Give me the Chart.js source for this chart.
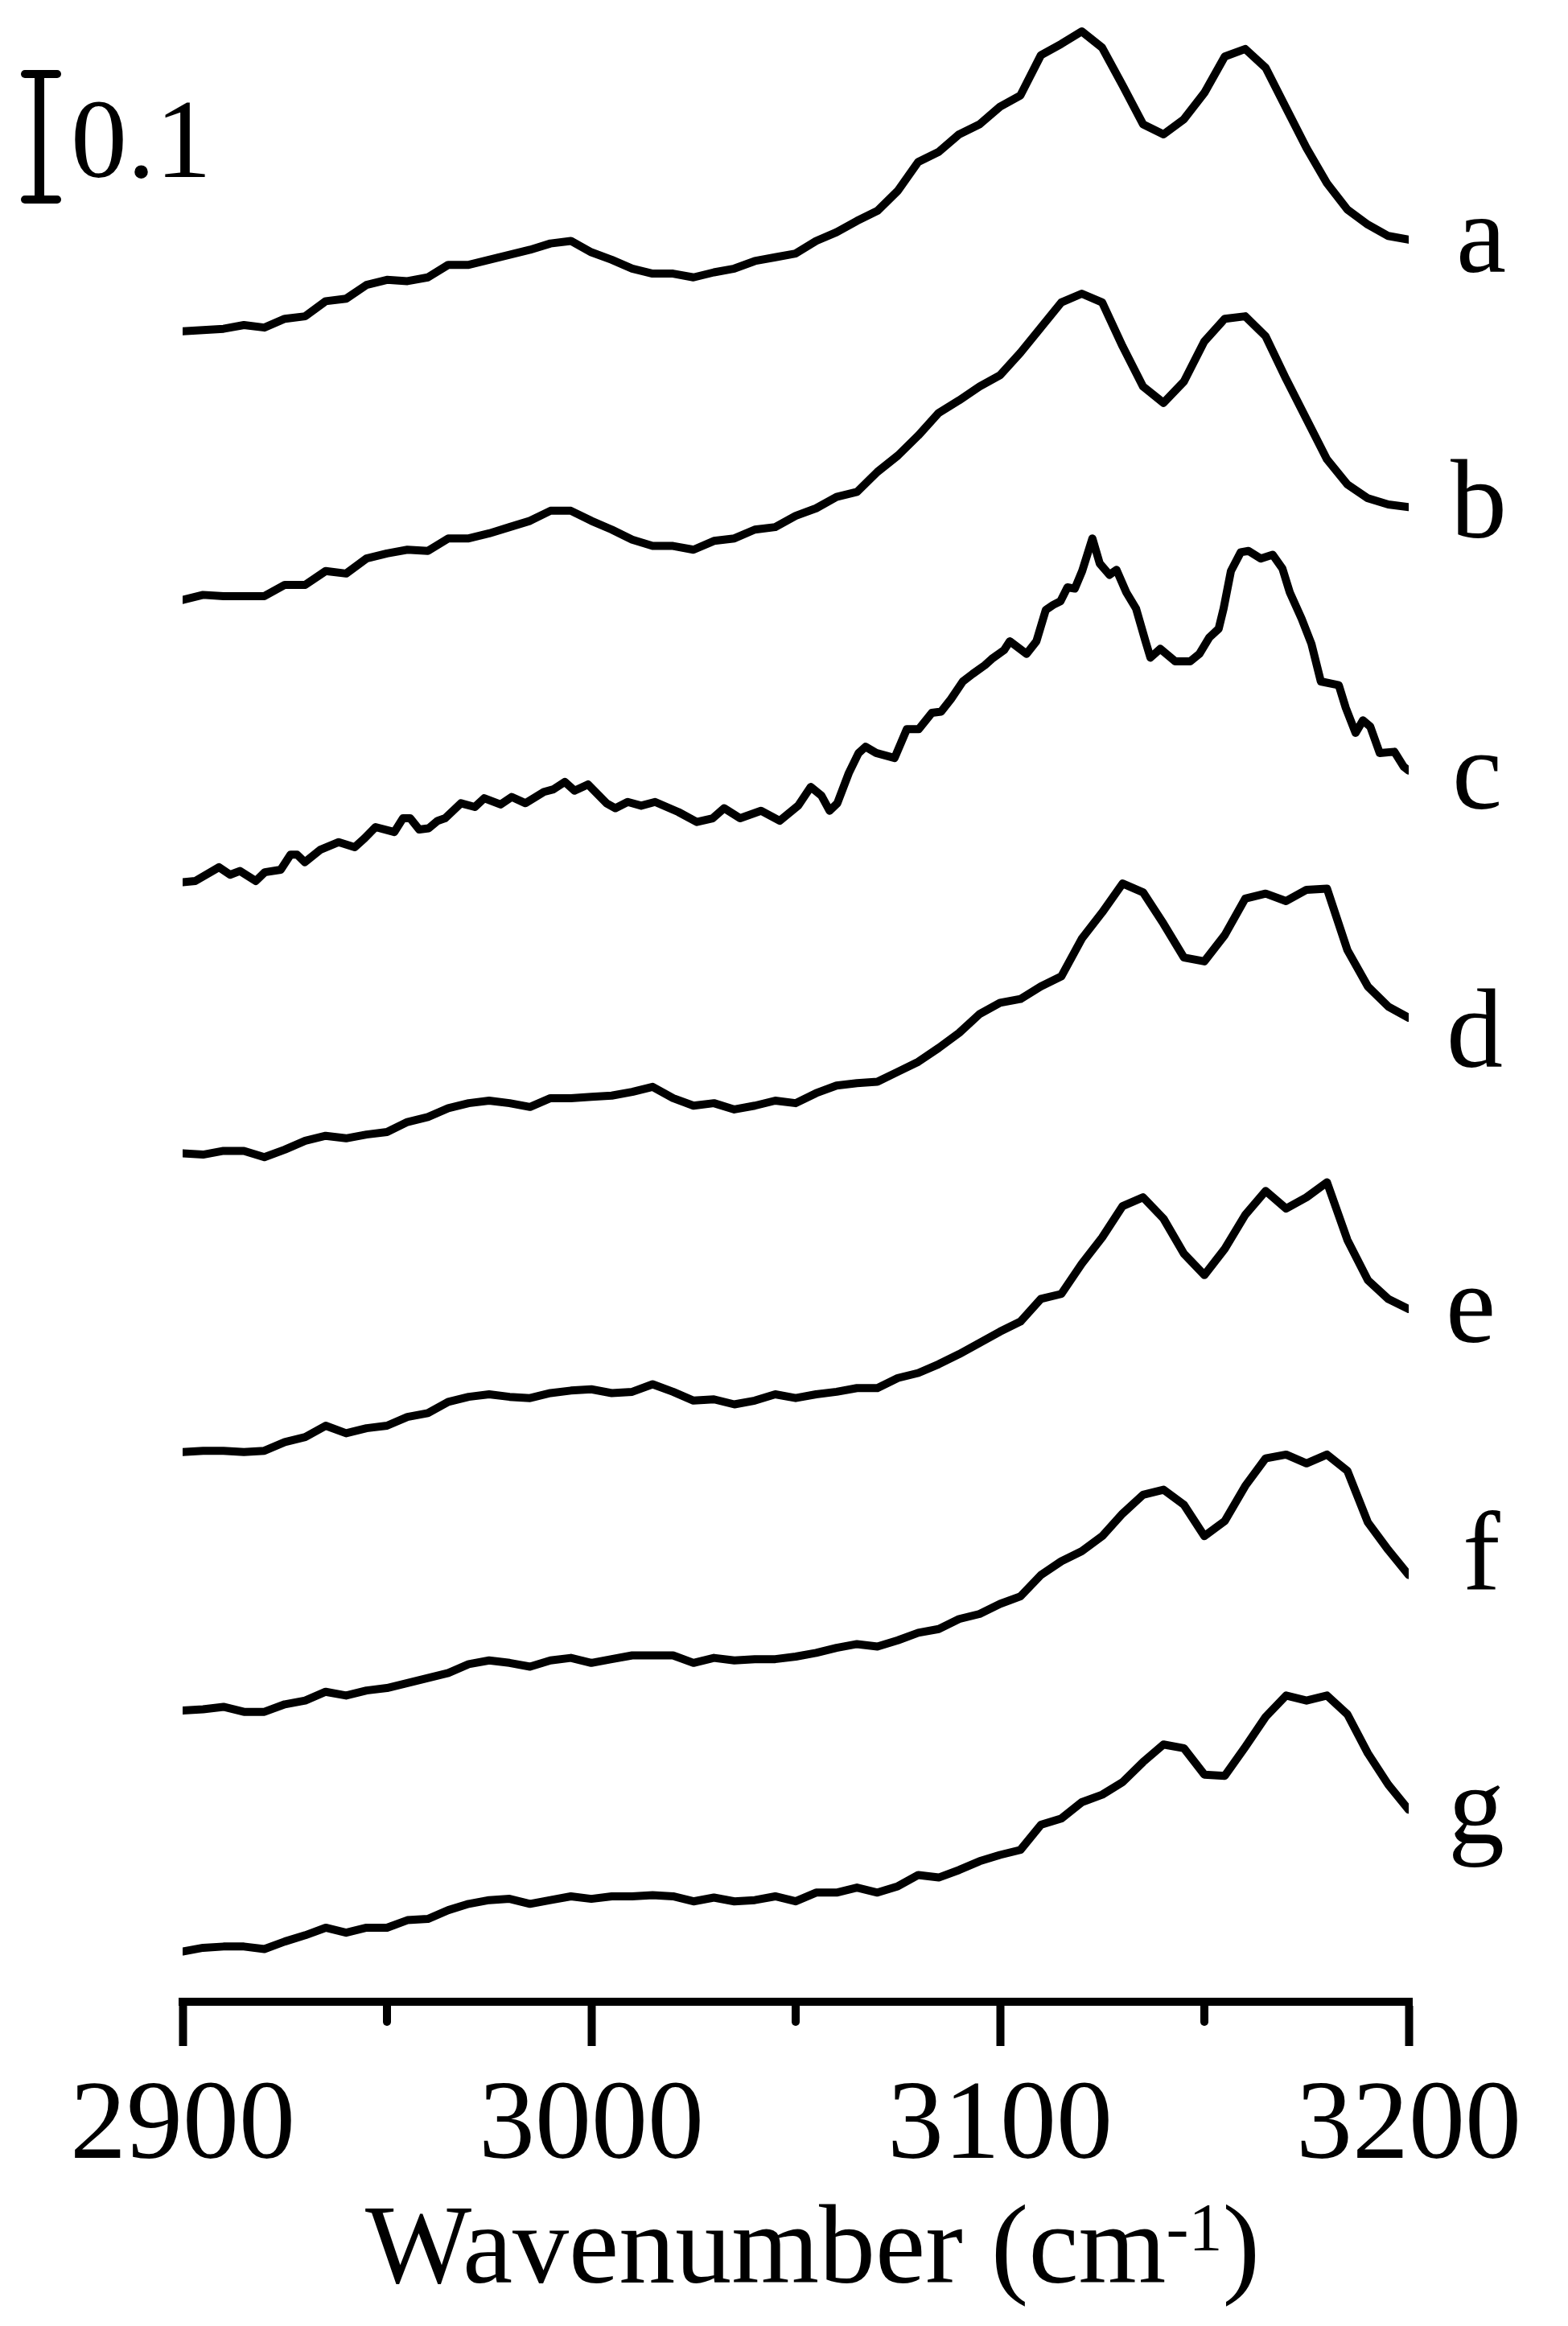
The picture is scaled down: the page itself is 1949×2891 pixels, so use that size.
<!DOCTYPE html>
<html>
<head>
<meta charset="utf-8">
<title>IR spectra a-g</title>
<script src="https://cdn.jsdelivr.net/npm/chart.js@4.4.1/dist/chart.umd.min.js"></script>
<style>
    html, body { margin: 0; padding: 0; background: #fff; }
    #wrap { width: 1949px; height: 2891px; }
</style>
</head>
<body>
<div id="wrap"><canvas id="irChart" width="1949" height="2891"></canvas></div>
<script>
// wavenumber grid (cm-1) for spectra a, b, d, e, f, g
const wavenumbers = [
    2900, 2905, 2910, 2915, 2920, 2925, 2930, 2935, 2940, 2945,
    2950, 2955, 2960, 2965, 2970, 2975, 2980, 2985, 2990, 2995,
    3000, 3005, 3010, 3015, 3020, 3025, 3030, 3035, 3040, 3045,
    3050, 3055, 3060, 3065, 3070, 3075, 3080, 3085, 3090, 3095,
    3100, 3105, 3110, 3115, 3120, 3125, 3130, 3135, 3140, 3145,
    3150, 3155, 3160, 3165, 3170, 3175, 3180, 3185, 3190, 3195,
    3200
];

// absorbance relative to the 2900 cm-1 point of each spectrum
const specA = [
    0, 0.001, 0.002, 0.005, 0.003, 0.010, 0.012, 0.024, 0.026, 0.037,
    0.041, 0.040, 0.043, 0.053, 0.053, 0.057, 0.061, 0.065, 0.070, 0.072,
    0.063, 0.057, 0.050, 0.046, 0.046, 0.043, 0.047, 0.050, 0.056, 0.059,
    0.062, 0.072, 0.079, 0.088, 0.096, 0.112, 0.135, 0.143, 0.157, 0.165,
    0.179, 0.188, 0.220, 0.229, 0.239, 0.226, 0.196, 0.165, 0.157, 0.169,
    0.190, 0.219, 0.225, 0.210, 0.178, 0.146, 0.118, 0.097, 0.085, 0.076,
    0.073
];
const specB = [
    0, 0.004, 0.003, 0.003, 0.003, 0.012, 0.012, 0.023, 0.021, 0.033,
    0.037, 0.040, 0.039, 0.049, 0.049, 0.053, 0.058, 0.063, 0.071, 0.071,
    0.063, 0.056, 0.048, 0.043, 0.043, 0.040, 0.047, 0.049, 0.056, 0.058,
    0.067, 0.073, 0.082, 0.086, 0.102, 0.115, 0.131, 0.149, 0.159, 0.170,
    0.179, 0.197, 0.217, 0.237, 0.244, 0.237, 0.202, 0.170, 0.157, 0.174,
    0.206, 0.224, 0.226, 0.210, 0.176, 0.144, 0.112, 0.092, 0.081, 0.076,
    0.074
];
// spectrum c is noisier, so it keeps its own wavenumbers
const wavenumbersC = [
    2900, 2903.1, 2908.9, 2911.6, 2914, 2917.9, 2920.1, 2924, 2926.4, 2928,
    2929.9, 2933.7, 2938.2, 2942.1, 2944.5, 2947.2, 2951.8, 2953.9, 2955.7, 2957.9,
    2960.2, 2962.4, 2964.2, 2968.1, 2971.5, 2973.8, 2977.8, 2980.5, 2983.9, 2988.4,
    2990.7, 2993.5, 2995.9, 2999.2, 3003.7, 3005.9, 3008.9, 3012.2, 3015.6, 3021.3,
    3025.8, 3029.7, 3032.5, 3036.4, 3041.5, 3046.1, 3050.6, 3053.7, 3056.3, 3058.3,
    3060.2, 3063, 3065.4, 3067.1, 3069.7, 3074.2, 3077.2, 3080.1, 3083.3, 3085.6,
    3088, 3090.9, 3093.3, 3096.3, 3098, 3101, 3102.4, 3106.5, 3108.9, 3111.2,
    3113, 3114.8, 3116.5, 3118.3, 3120.1, 3122.6, 3124.4, 3126.8, 3128.5, 3130.9,
    3133.3, 3135.6, 3136.8, 3139.2, 3142.9, 3146.5, 3148.8, 3151.2, 3153.5, 3154.7,
    3156.5, 3158.9, 3160.8, 3163.8, 3166.7, 3169.1, 3170.9, 3173.8, 3176.2, 3178.5,
    3182.9, 3184.6, 3187, 3188.8, 3190.6, 3192.9, 3196.5, 3198.8, 3200
];
const specC = [
    0, 0.001, 0.012, 0.006, 0.009, 0.001, 0.008, 0.010, 0.022, 0.022,
    0.016, 0.026, 0.032, 0.028, 0.035, 0.044, 0.040, 0.051, 0.051, 0.042,
    0.043, 0.049, 0.051, 0.063, 0.060, 0.067, 0.062, 0.068, 0.063, 0.072,
    0.074, 0.080, 0.073, 0.078, 0.063, 0.059, 0.064, 0.061, 0.064, 0.056,
    0.048, 0.051, 0.059, 0.051, 0.057, 0.049, 0.061, 0.076, 0.069, 0.057,
    0.063, 0.087, 0.103, 0.108, 0.103, 0.099, 0.122, 0.122, 0.135, 0.136,
    0.146, 0.160, 0.166, 0.173, 0.178, 0.185, 0.192, 0.182, 0.192, 0.217,
    0.221, 0.224, 0.235, 0.234, 0.248, 0.274, 0.254, 0.245, 0.249, 0.231,
    0.218, 0.192, 0.179, 0.186, 0.176, 0.176, 0.182, 0.195, 0.202, 0.218,
    0.248, 0.263, 0.264, 0.258, 0.261, 0.250, 0.231, 0.210, 0.190, 0.160,
    0.157, 0.139, 0.119, 0.129, 0.124, 0.103, 0.104, 0.092, 0.089
];
const specD = [
    0, -0.001, 0.002, 0.002, -0.003, 0.003, 0.010, 0.014, 0.012, 0.015,
    0.017, 0.025, 0.029, 0.036, 0.040, 0.042, 0.040, 0.037, 0.044, 0.044,
    0.045, 0.046, 0.049, 0.053, 0.044, 0.038, 0.040, 0.035, 0.038, 0.042,
    0.040, 0.048, 0.054, 0.056, 0.057, 0.065, 0.073, 0.084, 0.096, 0.111,
    0.120, 0.123, 0.133, 0.141, 0.171, 0.192, 0.215, 0.208, 0.183, 0.156,
    0.153, 0.174, 0.203, 0.207, 0.201, 0.210, 0.211, 0.162, 0.133, 0.117,
    0.108
];
const specE = [
    0, 0.001, 0.001, 0, 0.001, 0.008, 0.012, 0.021, 0.015, 0.019,
    0.021, 0.028, 0.031, 0.040, 0.044, 0.046, 0.044, 0.043, 0.047, 0.049,
    0.050, 0.047, 0.048, 0.054, 0.048, 0.041, 0.042, 0.038, 0.041, 0.046,
    0.043, 0.046, 0.048, 0.051, 0.051, 0.059, 0.063, 0.070, 0.078, 0.087,
    0.096, 0.104, 0.122, 0.126, 0.150, 0.171, 0.196, 0.203, 0.186, 0.158,
    0.141, 0.162, 0.189, 0.208, 0.194, 0.203, 0.215, 0.169, 0.137, 0.122,
    0.114
];
const specF = [
    0, 0.001, 0.003, -0.001, -0.001, 0.005, 0.008, 0.015, 0.012, 0.016,
    0.018, 0.022, 0.026, 0.030, 0.037, 0.040, 0.038, 0.035, 0.040, 0.042,
    0.038, 0.041, 0.044, 0.044, 0.044, 0.038, 0.042, 0.040, 0.041, 0.041,
    0.043, 0.046, 0.050, 0.053, 0.051, 0.056, 0.062, 0.065, 0.073, 0.077,
    0.085, 0.091, 0.108, 0.119, 0.127, 0.139, 0.157, 0.172, 0.176, 0.164,
    0.139, 0.151, 0.179, 0.201, 0.204, 0.197, 0.204, 0.191, 0.150, 0.128,
    0.108
];
const specG = [
    0, 0.003, 0.004, 0.004, 0.002, 0.008, 0.013, 0.019, 0.015, 0.019,
    0.019, 0.025, 0.026, 0.033, 0.038, 0.041, 0.042, 0.038, 0.041, 0.044,
    0.042, 0.044, 0.044, 0.045, 0.044, 0.040, 0.043, 0.040, 0.041, 0.044,
    0.040, 0.047, 0.047, 0.051, 0.047, 0.052, 0.061, 0.059, 0.065, 0.072,
    0.077, 0.081, 0.101, 0.106, 0.119, 0.125, 0.135, 0.151, 0.165, 0.162,
    0.141, 0.140, 0.163, 0.187, 0.204, 0.200, 0.204, 0.189, 0.158, 0.133,
    0.113
];

// vertical stacking offsets (absorbance) and names
const seriesNames = ['a', 'b', 'c', 'd', 'e', 'f', 'g'];
const seriesOffsets = [1.331, 1.117, 0.892, 0.676, 0.438, 0.232, 0.040];

// x axis
const xMin = 2900;
const xMax = 3200;
const majorStep = 100;
const minorTicks = [2950, 3050, 3150];

// scale bar: 0.1 absorbance
const scaleBarSize = 0.1;
const scaleBarBase = 1.436;

// layout only (not data)
const FONT = '"Liberation Serif", "Times New Roman", serif';
const labelPlacement = [      // dx from right edge (px), baseline (absorbance)
    { dx: 59, y: 1.378 },
    { dx: 52, y: 1.167 },
    { dx: 54, y: 0.951 },
    { dx: 47, y: 0.745 },
    { dx: 46, y: 0.526 },
    { dx: 67, y: 0.328 },
    { dx: 49, y: 0.126 }
];

const spectra = [
    { x: wavenumbers, y: specA },
    { x: wavenumbers, y: specB },
    { x: wavenumbersC, y: specC },
    { x: wavenumbers, y: specD },
    { x: wavenumbers, y: specE },
    { x: wavenumbers, y: specF },
    { x: wavenumbers, y: specG }
];

const datasets = spectra.map((s, i) => ({
    label: seriesNames[i],
    data: s.x.map((w, j) => ({ x: w, y: seriesOffsets[i] + s.y[j] })),
    borderColor: '#000',
    borderWidth: 10,
    borderJoinStyle: 'round',
    borderCapStyle: 'round',
    pointRadius: 0,
    tension: 0,
    fill: false
}));

// 補助描画: 副目盛, スケールバー, 系列名, 軸タイトル
const decorations = {
    id: 'decorations',
    afterDraw(chart) {
        const { ctx, chartArea, scales } = chart;
        const xs = scales.x;
        const ys = scales.y;
        ctx.save();
        ctx.fillStyle = '#000';
        ctx.strokeStyle = '#000';

        // axis corners
        ctx.fillRect(chartArea.left - 5, chartArea.bottom - 5, 5, 10);
        ctx.fillRect(chartArea.right, chartArea.bottom - 5, 5, 10);

        // minor ticks
        ctx.lineWidth = 10;
        ctx.lineCap = 'round';
        minorTicks.forEach(w => {
            const px = xs.getPixelForValue(w);
            ctx.beginPath();
            ctx.moveTo(px, chartArea.bottom + 5);
            ctx.lineTo(px, chartArea.bottom + 25);
            ctx.stroke();
        });

        // scale bar
        const yTop = ys.getPixelForValue(scaleBarBase + scaleBarSize);
        const yBot = ys.getPixelForValue(scaleBarBase);
        const bx = chartArea.left - 178;
        ctx.lineCap = 'butt';
        ctx.lineWidth = 12;
        ctx.beginPath();
        ctx.moveTo(bx, yTop);
        ctx.lineTo(bx, yBot);
        ctx.stroke();
        ctx.lineCap = 'round';
        ctx.lineWidth = 10;
        [yTop, yBot].forEach(yy => {
            ctx.beginPath();
            ctx.moveTo(bx - 18, yy);
            ctx.lineTo(bx + 22, yy);
            ctx.stroke();
        });
        ctx.font = '140px ' + FONT;
        ctx.textAlign = 'left';
        ctx.textBaseline = 'alphabetic';
        ctx.fillText(String(scaleBarSize), bx + 39, (yTop + yBot) / 2 + 50);

        // series letters
        seriesNames.forEach((name, i) => {
            const p = labelPlacement[i];
            ctx.fillText(name, chartArea.right + p.dx, ys.getPixelForValue(p.y));
        });

        // axis title: Wavenumber (cm-1)
        const main = 'Wavenumber (cm';
        const base = chartArea.bottom + 349;
        let tx = chartArea.left + 227;
        ctx.font = '140px ' + FONT;
        ctx.fillText(main, tx, base);
        tx += ctx.measureText(main).width;
        ctx.font = '84px ' + FONT;
        ctx.fillText('-1', tx, base - 40);
        tx += ctx.measureText('-1').width;
        ctx.font = '140px ' + FONT;
        ctx.fillText(')', tx, base);

        ctx.restore();
    }
};

new Chart(document.getElementById('irChart'), {
    type: 'line',
    data: { datasets },
    options: {
        responsive: false,
        animation: false,
        layout: { padding: { left: 227, right: 198, top: 0, bottom: 0 } },
        plugins: {
            legend: { display: false },
            tooltip: { enabled: false }
        },
        scales: {
            x: {
                type: 'linear',
                min: xMin,
                max: xMax,
                afterFit: scale => { scale.height = 403; },
                border: { display: true, color: '#000', width: 10 },
                grid: {
                    display: true,
                    drawOnChartArea: false,
                    drawTicks: true,
                    tickLength: 55,
                    tickWidth: 10,
                    tickColor: '#000'
                },
                ticks: {
                    stepSize: majorStep,
                    autoSkip: false,
                    maxRotation: 0,
                    padding: 18,
                    color: '#000',
                    font: { family: FONT, size: 140 },
                    callback: v => String(v)
                }
            },
            y: {
                type: 'linear',
                display: false,
                min: 0,
                max: 1.595
            }
        }
    },
    plugins: [decorations]
});
</script>
</body>
</html>
